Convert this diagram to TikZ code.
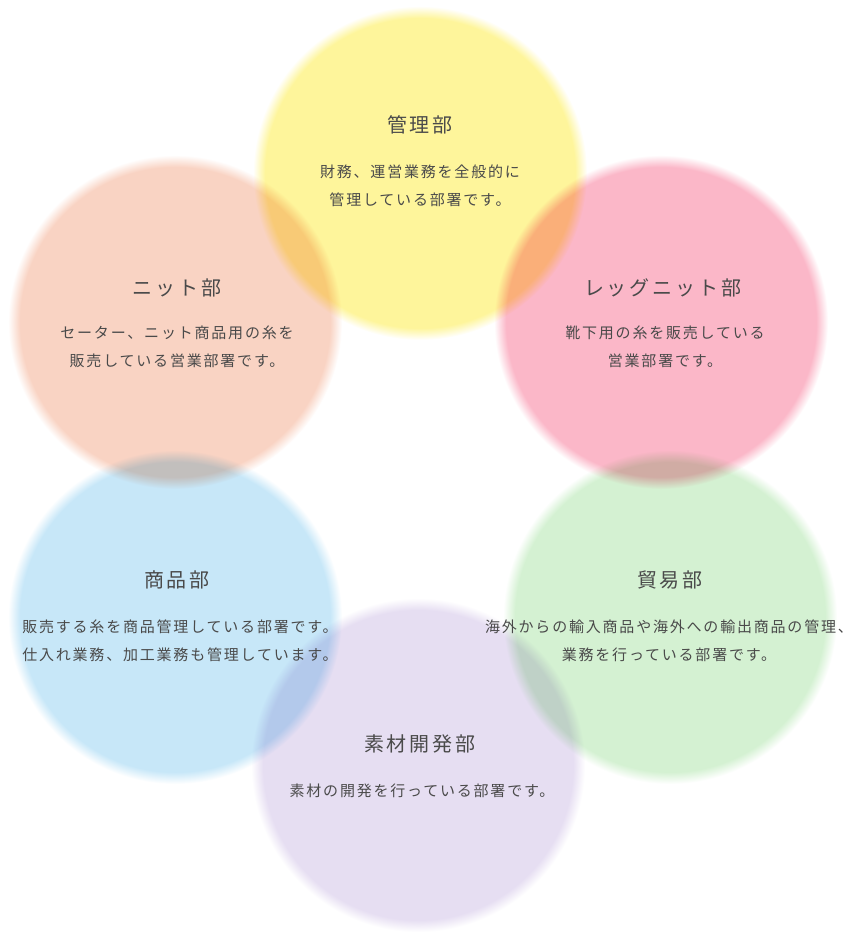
\documentclass[tikz,border=0pt]{standalone}
\usepackage{fontspec}
\newfontfamily\jpT[LetterSpace=15]{Noto Sans CJK JP}
\newfontfamily\jpB[LetterSpace=12]{Noto Sans CJK JP}
\definecolor{cY}{HTML}{FEF59B}
\definecolor{cPk}{HTML}{FBB7C8}
\definecolor{cPe}{HTML}{F9D3C3}
\definecolor{cB}{HTML}{C7E7F8}
\definecolor{cG}{HTML}{D4F1D2}
\definecolor{cV}{HTML}{E6DEF2}
\definecolor{txt}{HTML}{4A4A4A}
\pgfdeclareradialshading{shY}{\pgfpoint{0bp}{0bp}}{color(0bp)=(cY); color(23.2bp)=(cY); color(25bp)=(white); color(50bp)=(white)}
\pgfdeclareradialshading{shPk}{\pgfpoint{0bp}{0bp}}{color(0bp)=(cPk); color(23.2bp)=(cPk); color(25bp)=(white); color(50bp)=(white)}
\pgfdeclareradialshading{shPe}{\pgfpoint{0bp}{0bp}}{color(0bp)=(cPe); color(23.2bp)=(cPe); color(25bp)=(white); color(50bp)=(white)}
\pgfdeclareradialshading{shB}{\pgfpoint{0bp}{0bp}}{color(0bp)=(cB); color(23.2bp)=(cB); color(25bp)=(white); color(50bp)=(white)}
\pgfdeclareradialshading{shG}{\pgfpoint{0bp}{0bp}}{color(0bp)=(cG); color(23.2bp)=(cG); color(25bp)=(white); color(50bp)=(white)}
\pgfdeclareradialshading{shV}{\pgfpoint{0bp}{0bp}}{color(0bp)=(cV); color(23.2bp)=(cV); color(25bp)=(white); color(50bp)=(white)}
\tikzset{
  ttl/.style={text=txt, inner sep=0pt, font=\jpT\fontsize{20}{24}\selectfont},
  bdy/.style={text=txt, inner sep=0pt, align=center, font=\jpB\fontsize{15}{28}\selectfont},
}
\begin{document}
\begin{tikzpicture}[x=1pt,y=-1pt]
\useasboundingbox (0,0) rectangle (852,941);
\fill[white] (0,0) rectangle (852,941);
\begin{scope}[blend group=multiply]
\shade[shading=shY]  (420,173) circle (167pt);
\shade[shading=shPk] (661,322) circle (167pt);
\shade[shading=shPe] (175,322) circle (167pt);
\shade[shading=shB]  (175,617) circle (167pt);
\shade[shading=shG]  (670,617) circle (167pt);
\shade[shading=shV]  (418,765) circle (167pt);
\end{scope}
\node[ttl] (t1) at (420,125) {管理部};
\node[bdy] (b1) at (420,186) {財務、運営業務を全般的に\\管理している部署です。};
\node[ttl] (t2) at (177,288) {ニット部};
\node[bdy] (b2) at (177,347) {セーター、ニット商品用の糸を\\販売している営業部署です。};
\node[ttl] (t3) at (663,288) {レッグニット部};
\node[bdy] (b3) at (665,347) {靴下用の糸を販売している\\営業部署です。};
\node[ttl] (t4) at (177,580) {商品部};
\node[bdy] (b4) at (180,641) {販売する糸を商品管理している部署です。\\仕入れ業務、加工業務も管理しています。};
\node[ttl] (t5) at (670,580) {貿易部};
\node[bdy] (b5) at (669,641) {海外からの輸入商品や海外への輸出商品の管理、\\業務を行っている部署です。};
\node[ttl] (t6) at (420,744) {素材開発部};
\node[bdy] (b6) at (422,791) {素材の開発を行っている部署です。};
\end{tikzpicture}
\end{document}
